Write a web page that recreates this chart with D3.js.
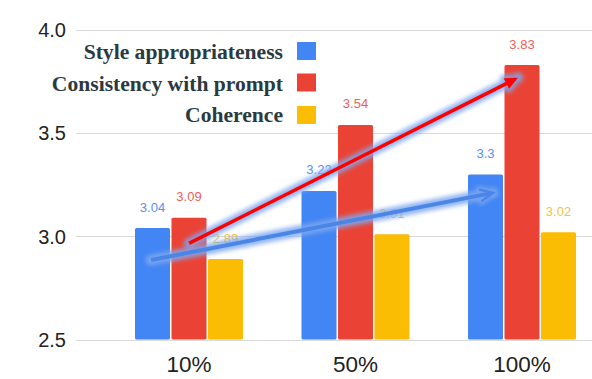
<!DOCTYPE html>
<html><head><meta charset="utf-8">
<script src="https://cdn.jsdelivr.net/npm/d3@7"></script>
<style>html,body{margin:0;padding:0;background:#fff;}svg{display:block;}</style>
</head><body>
<svg id="chart" width="592" height="379"></svg>
<script>
const categories = ["10%", "50%", "100%"];
const seriesNames = ["Style appropriateness", "Consistency with prompt", "Coherence"];
const styleValues = [3.04, 3.22, 3.3];
const consistencyValues = [3.09, 3.54, 3.83];
const coherenceValues = [2.89, 3.01, 3.02];
const yTicks = [2.5, 3.0, 3.5, 4.0];
const barColors = ["#4285f4", "#ea4335", "#fbbc04"];
const labelColors = ["#5a8ff2", "#ee5f55", "#f5c242"];
// annotation arrows: [category, offset as fraction of group step, value]
const arrowBlue = {from: ["10%", -0.228, 2.885], to: ["100%", -0.174, 3.211]};
const arrowRed = {from: ["10%", 0.0, 2.966], to: ["100%", -0.024, 3.769]};

const values = [styleValues, consistencyValues, coherenceValues];
const svg = d3.select("#chart");
const y = d3.scaleLinear().domain([2.5, 4.0]).range([339.5, 30]);
const x0 = d3.scaleBand().domain(categories).range([105.75, 605.25]).paddingInner(0.3514).paddingOuter(0.1757);
const x1 = d3.scaleBand().domain(seriesNames).range([0, x0.bandwidth()]).paddingInner(0.04);

// grid
svg.append("g").selectAll("line").data(yTicks).join("line")
  .attr("x1", 76).attr("x2", 592)
  .attr("y1", d => Math.round(y(d)) + 0.5).attr("y2", d => Math.round(y(d)) + 0.5)
  .attr("stroke", "#d9d9d9").attr("stroke-width", 1);
svg.append("g").selectAll("text").data(yTicks).join("text")
  .attr("x", 66).attr("y", d => y(d)).attr("dy", "0.36em")
  .attr("text-anchor", "end").attr("font-family", "Liberation Sans, Arial, sans-serif")
  .attr("font-size", 20).attr("fill", "#222").text(d => d3.format(".1f")(d));

// bars
const groups = svg.append("g").selectAll("g").data(categories).join("g")
  .attr("transform", c => `translate(${x0(c)},0)`);
groups.each(function(c, ci) {
  const g = d3.select(this);
  seriesNames.forEach((s, si) => {
    const v = values[si][ci];
    g.append("rect").attr("x", x1(s)).attr("y", y(v))
      .attr("width", x1.bandwidth()).attr("height", y(2.5) - y(v))
      .attr("rx", 1.5).attr("fill", barColors[si]);
    g.append("text").attr("x", x1(s) + x1.bandwidth() / 2).attr("y", y(v) - 16.5)
      .attr("text-anchor", "middle").attr("font-family", "Liberation Sans, Arial, sans-serif")
      .attr("font-size", 13).attr("fill", labelColors[si]).text(v);
  });
});

// x labels
svg.append("g").selectAll("text").data(categories).join("text")
  .attr("x", c => x0(c) + x0.bandwidth() / 2).attr("y", 372)
  .attr("text-anchor", "middle").attr("font-family", "Liberation Sans, Arial, sans-serif")
  .attr("font-size", 22.5).attr("fill", "#222").text(c => c);

// legend
const legendY = [59, 90.5, 121.5];
const swatchY = [42, 73.5, 106];
seriesNames.forEach((s, i) => {
  svg.append("text").attr("x", 283).attr("y", legendY[i]).attr("text-anchor", "end")
    .attr("font-family", "Liberation Serif, Times New Roman, serif").attr("font-weight", "bold")
    .attr("font-size", 21.6).attr("fill", "#2b3940").text(s);
  svg.append("rect").attr("x", 297).attr("y", swatchY[i]).attr("width", 19).attr("height", 18)
    .attr("fill", barColors[i]);
});

// arrows with glow
const defs = svg.append("defs");
const f = defs.append("filter").attr("id", "glow").attr("x", "-20%").attr("y", "-50%").attr("width", "140%").attr("height", "200%");
f.append("feGaussianBlur").attr("stdDeviation", 2.2);
const px = a => x0(a[0]) + x0.bandwidth() / 2 + a[1] * x0.step();
function drawArrow(a, color, width, headFilled) {
  const x1p = px(a.from), y1p = y(a.from[2]), x2p = px(a.to), y2p = y(a.to[2]);
  const ang = Math.atan2(y2p - y1p, x2p - x1p);
  const hl = 13, hw = 6;
  const bx = x2p - hl * Math.cos(ang), by = y2p - hl * Math.sin(ang);
  const lx = bx + hw * Math.sin(ang), ly = by - hw * Math.cos(ang);
  const rx = bx - hw * Math.sin(ang), ry = by + hw * Math.cos(ang);
  const g = svg.append("g");
  const glow = g.append("g").attr("filter", "url(#glow)").attr("opacity", 0.85);
  glow.append("line").attr("x1", x1p).attr("y1", y1p).attr("x2", x2p).attr("y2", y2p)
    .attr("stroke", "#7fa8f0").attr("stroke-width", width + 7).attr("stroke-linecap", "round");
  glow.append("path").attr("d", `M${lx},${ly}L${x2p},${y2p}L${rx},${ry}Z`)
    .attr("fill", "#7fa8f0").attr("stroke", "#7fa8f0").attr("stroke-width", 7).attr("stroke-linejoin", "round");
  g.append("line").attr("x1", x1p).attr("y1", y1p)
    .attr("x2", x2p - 3 * Math.cos(ang)).attr("y2", y2p - 3 * Math.sin(ang))
    .attr("stroke", color).attr("stroke-width", width);
  if (headFilled) {
    g.append("path").attr("d", `M${lx},${ly}L${x2p},${y2p}L${rx},${ry}Z`).attr("fill", color);
  } else {
    g.append("path").attr("d", `M${lx},${ly}L${x2p},${y2p}L${rx},${ry}`)
      .attr("fill", "none").attr("stroke", color).attr("stroke-width", 2.5).attr("stroke-linejoin", "miter");
  }
}
drawArrow(arrowRed, "#ff0000", 3.5, true);
drawArrow(arrowBlue, "#4a86e8", 4, false);
</script>
</body></html>
